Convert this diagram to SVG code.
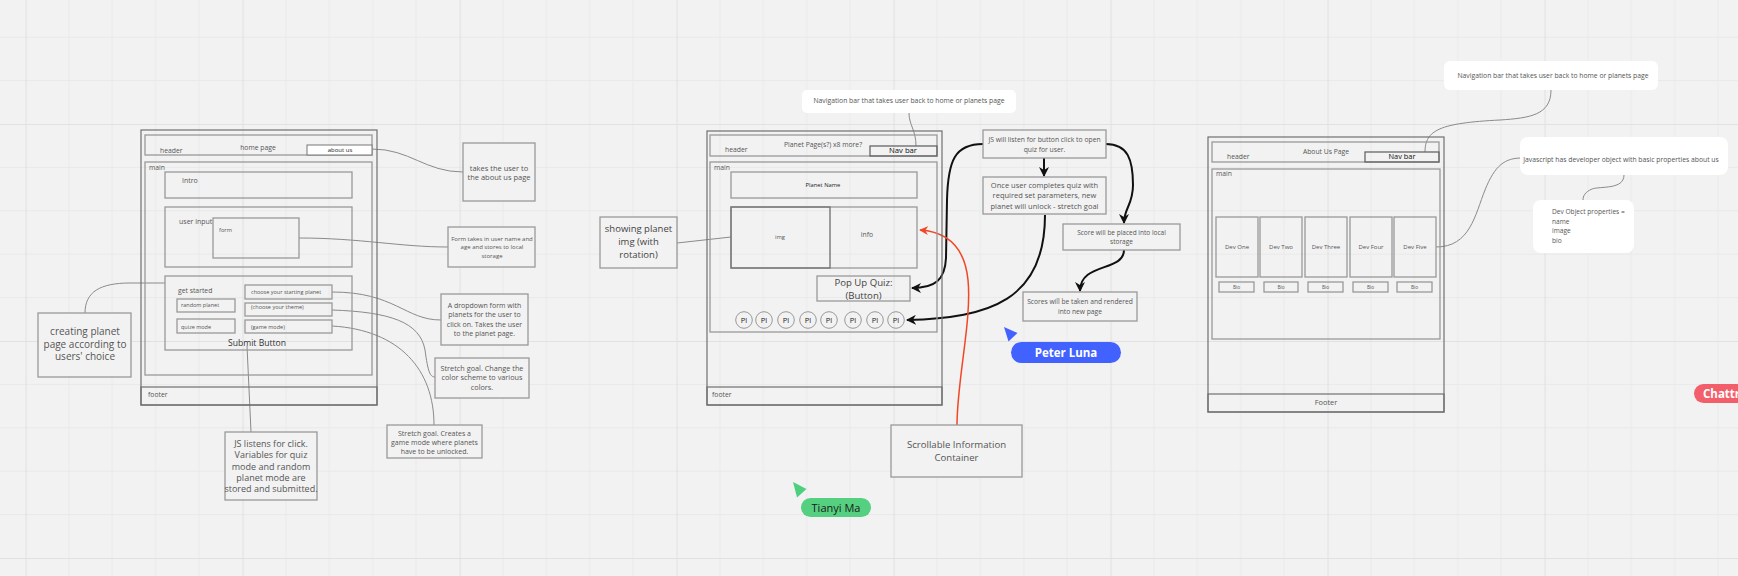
<svg xmlns="http://www.w3.org/2000/svg" width="1738" height="576" viewBox="0 0 1738 576">
<defs>
<pattern id="grid" x="25.5" y="124" width="217" height="217" patternUnits="userSpaceOnUse">
<path d="M43.4 0V217M86.8 0V217M130.2 0V217M173.6 0V217M0 43.4H217M0 86.8H217M0 130.2H217M0 173.6H217" stroke="#e9e9e9" stroke-width="1" fill="none"/>
<path d="M0.5 0V217M0 0.5H217" stroke="#e1e1e1" stroke-width="1.2" fill="none"/>
</pattern>
<marker id="ab" viewBox="0 0 10 10" refX="9" refY="5" markerWidth="5" markerHeight="5" orient="auto" markerUnits="strokeWidth">
<path d="M0,0 L10,5 L0,10 L3,5 z" fill="#111"/>
</marker>
<marker id="ar" viewBox="0 0 10 10" refX="9" refY="5" markerWidth="6" markerHeight="6" orient="auto" markerUnits="strokeWidth">
<path d="M0,0 L10,5 L0,10 L3,5 z" fill="#f24726"/>
</marker>
<style>
text{font-family:"Open Sans","Liberation Sans",sans-serif;fill:#555}
.c{text-anchor:middle}
.b{fill:none;stroke:#999;stroke-width:1.3}
.o{fill:none;stroke:#707070;stroke-width:1.2}
.n{fill:#f2f2f2;stroke:#999;stroke-width:1.3}
.d{fill:none;stroke:#666;stroke-width:1.3}
.tip{fill:#ffffff;stroke:none}
.cn{fill:none;stroke:#8a8a8a;stroke-width:1}
.bk{fill:none;stroke:#111;stroke-width:2;marker-end:url(#ab)}
.rd{fill:none;stroke:#f24726;stroke-width:1.5;marker-end:url(#ar)}
.s7{font-size:6.8px}
.dk{fill:#222}
</style>
</defs>
<rect width="1738" height="576" fill="#f2f2f2"/>
<rect width="1738" height="576" fill="url(#grid)"/>

<g id="connectors">
<path class="cn" d="M372,149 C410,149 425,172 463,172"/>
<path class="cn" d="M299,238 C360,238 400,247 448,247"/>
<path class="cn" d="M332,292 C395,292 405,320 441,320"/>
<path class="cn" d="M332,310 C390,312 420,322 425,350 C428,372 430,377 435,377"/>
<path class="cn" d="M332,326 C400,330 434,370 434,425"/>
<path class="cn" d="M85,313 C85,292 100,283 130,283 L165,283"/>
<path class="cn" d="M247,346 L251,432"/>
<path class="cn" d="M677,243 L731,237"/>
<path class="cn" d="M909,113 C909,125 916,130 916,146"/>
<path class="cn" d="M1551,90 C1551,115 1530,118 1500,120 C1440,123 1425,130 1425,152"/>
<path class="cn" d="M1436,247 C1470,247 1475,215 1485,190 C1495,165 1505,158 1522,158"/>
<path class="cn" d="M1624,175 C1624,190 1600,186 1592,189 C1585,192 1583,196 1583,200"/>
<path class="bk" d="M983,144 C955,144 948,160 947,200 L946,258 C945,280 935,288 912,288"/>
<path class="bk" d="M1045,215 C1045,300 990,318 907,320"/>
<path class="bk" d="M1044,158 L1044,176"/>
<path class="bk" d="M1106,144 C1128,144 1133,160 1133,185 C1133,205 1124,208 1124,223"/>
<path class="bk" d="M1124,250 C1124,272 1080,262 1080,291"/>
<path class="rd" d="M957,425 C957,380 972,320 968,280 C965,250 950,232 920,230"/>
</g>

<g id="home-page">
<rect class="o" x="141" y="130" width="236" height="275"/>
<rect class="b" x="145" y="135" width="227" height="20"/>
<text x="160" y="153" class="s7">header</text>
<text x="258" y="150" class="c s7">home page</text>
<rect x="307" y="145" width="65" height="10" fill="#fff" stroke="#777" stroke-width="1"/>
<text x="340" y="152" class="c dk" font-size="6">about us</text>
<rect class="b" x="145" y="162" width="227" height="213"/>
<text x="149" y="170" class="s7">main</text>
<rect class="b" x="165" y="172" width="187" height="26"/>
<text x="182" y="183" font-size="7">Intro</text>
<rect class="b" x="165" y="207" width="187" height="60"/>
<text x="179" y="224" font-size="7">user input</text>
<rect class="b" x="213" y="218" width="86" height="40"/>
<text x="219" y="232" font-size="5.7">form</text>
<rect class="b" x="165" y="276" width="187" height="74"/>
<text x="178" y="293" class="s7">get started</text>
<rect class="b" x="177" y="299" width="58" height="13"/>
<text x="181" y="307" font-size="5.5">random planet</text>
<rect class="b" x="177" y="319" width="58" height="14"/>
<text x="181" y="329" font-size="5.5">quize mode</text>
<rect class="b" x="245" y="285" width="87" height="14"/>
<text x="251" y="294" font-size="5.5">choose your starting planet</text>
<rect class="b" x="245" y="303" width="87" height="13"/>
<text x="251" y="309" font-size="5.5">(choose your theme)</text>
<rect class="b" x="245" y="320" width="87" height="13"/>
<text x="251" y="329" font-size="5.5">(game mode)</text>
<text x="257" y="346" class="c" font-size="8.6" fill="#333" style="fill:#333">Submit Button</text>
<rect class="o" x="141" y="387" width="236" height="18"/>
<text x="148" y="397" class="s7">footer</text>
</g>

<g id="note-creating">
<rect class="n" x="38" y="313" width="93" height="64"/>
<text class="c" font-size="10"><tspan x="85" y="335">creating planet</tspan><tspan x="85" y="347.5">page according to</tspan><tspan x="85" y="360">users' choice</tspan></text>
</g>
<g id="note-js-click">
<rect class="n" x="225" y="432" width="92" height="68"/>
<text class="c" font-size="9"><tspan x="271" y="447">JS listens for click.</tspan><tspan x="271" y="458.3">Variables for quiz</tspan><tspan x="271" y="469.6">mode and random</tspan><tspan x="271" y="480.9">planet mode are</tspan><tspan x="271" y="492.2">stored and submitted.</tspan></text>
</g>
<g id="note-about">
<rect class="n" x="463" y="143" width="72" height="58"/>
<text class="c" font-size="7.5"><tspan x="499" y="170.5">takes the user to</tspan><tspan x="499" y="179.5">the about us page</tspan></text>
</g>
<g id="note-form">
<rect class="n" x="448" y="227" width="87" height="40"/>
<text class="c" font-size="6"><tspan x="492" y="241">Form takes in user name and</tspan><tspan x="492" y="249.3">age and stores to local</tspan><tspan x="492" y="257.6">storage</tspan></text>
</g>
<g id="note-dropdown">
<rect class="n" x="441" y="294" width="87" height="51"/>
<text class="c" font-size="7"><tspan x="484.5" y="307.5">A dropdown form with</tspan><tspan x="484.5" y="317">planets for the user to</tspan><tspan x="484.5" y="326.5">click on. Takes the user</tspan><tspan x="484.5" y="336">to the planet page.</tspan></text>
</g>
<g id="note-theme">
<rect class="n" x="435" y="358" width="94" height="40"/>
<text class="c" font-size="7.3"><tspan x="482" y="370.5">Stretch goal. Change the</tspan><tspan x="482" y="380">color scheme to various</tspan><tspan x="482" y="389.5">colors.</tspan></text>
</g>
<g id="note-game">
<rect class="n" x="387" y="425" width="95" height="33"/>
<text class="c" font-size="7"><tspan x="434.5" y="435.5">Stretch goal. Creates a</tspan><tspan x="434.5" y="444.5">game mode where planets</tspan><tspan x="434.5" y="453.5">have to be unlocked.</tspan></text>
</g>

<g id="planet-page">
<rect class="o" x="707" y="131" width="235" height="274"/>
<rect class="b" x="710" y="135" width="227" height="21"/>
<text x="725" y="152" class="s7">header</text>
<text x="823" y="147" class="c s7">Planet Page(s?) x8 more?</text>
<rect class="d" x="870" y="146" width="67" height="10"/>
<text x="903" y="153" class="c" font-size="7.7" style="fill:#111">Nav bar</text>
<rect class="b" x="710" y="162" width="227" height="170"/>
<text x="714" y="170" class="s7">main</text>
<rect class="b" x="731" y="172" width="186" height="26"/>
<text x="823" y="187" class="c dk" font-size="5.8">Planet Name</text>
<rect class="b" x="731" y="207" width="186" height="61"/>
<rect x="731" y="207" width="99" height="61" fill="none" stroke="#777" stroke-width="1.4"/>
<text x="780" y="239" class="c" font-size="5.8">img</text>
<text x="867" y="237" class="c" font-size="6.8">info</text>
<rect class="b" x="817" y="276" width="93" height="25"/>
<text class="c" font-size="9.6" style="fill:#444"><tspan x="863.5" y="286">Pop Up Quiz:</tspan><tspan x="863.5" y="299">(Button)</tspan></text>
<g font-size="7.5">
<circle cx="744" cy="320" r="8.3" fill="none" stroke="#999"/><text x="744" y="322.7" class="c dk">Pl</text>
<circle cx="764" cy="320" r="8.3" fill="none" stroke="#999"/><text x="764" y="322.7" class="c dk">Pl</text>
<circle cx="786" cy="320" r="8.3" fill="none" stroke="#999"/><text x="786" y="322.7" class="c dk">Pl</text>
<circle cx="808" cy="320" r="8.3" fill="none" stroke="#999"/><text x="808" y="322.7" class="c dk">Pl</text>
<circle cx="829" cy="320" r="8.3" fill="none" stroke="#999"/><text x="829" y="322.7" class="c dk">Pl</text>
<circle cx="853" cy="320" r="8.3" fill="none" stroke="#999"/><text x="853" y="322.7" class="c dk">Pl</text>
<circle cx="875" cy="320" r="8.3" fill="none" stroke="#999"/><text x="875" y="322.7" class="c dk">Pl</text>
<circle cx="896" cy="320" r="8.3" fill="none" stroke="#999"/><text x="896" y="322.7" class="c dk">Pl</text>
</g>
<rect class="o" x="707" y="387" width="235" height="18"/>
<text x="712" y="397" class="s7">footer</text>
</g>

<g id="note-showing">
<rect class="n" x="600" y="217" width="77" height="51"/>
<text class="c" font-size="9.5" style="fill:#444"><tspan x="638.5" y="232">showing planet</tspan><tspan x="638.5" y="245">img (with</tspan><tspan x="638.5" y="258">rotation)</tspan></text>
</g>
<g id="tip-nav1">
<rect class="tip" x="802" y="90" width="214" height="23" rx="5"/>
<text x="909" y="103" class="c s7">Navigation bar that takes user back to home or planets page</text>
</g>
<g id="note-js-quiz">
<rect class="n" x="983" y="130" width="123" height="28"/>
<text class="c s7"><tspan x="1044.5" y="141.5">JS  will listen for button click to open</tspan><tspan x="1044.5" y="151.5">quiz for user.</tspan></text>
</g>
<g id="note-unlock">
<rect class="n" x="983" y="177" width="123" height="37"/>
<text class="c" font-size="7.5"><tspan x="1044.5" y="188">Once user completes quiz with</tspan><tspan x="1044.5" y="198.3">required set parameters, new</tspan><tspan x="1044.5" y="208.6">planet will unlock - stretch goal</tspan></text>
</g>
<g id="note-score">
<rect class="n" x="1063" y="224" width="117" height="26"/>
<text class="c" font-size="6.5"><tspan x="1121.5" y="234.5">Score will be placed into local</tspan><tspan x="1121.5" y="244">storage</tspan></text>
</g>
<g id="note-render">
<rect class="n" x="1023" y="292" width="114" height="29"/>
<text class="c" font-size="6.7"><tspan x="1080" y="304">Scores will be taken and rendered</tspan><tspan x="1080" y="313.5">into new page</tspan></text>
</g>
<g id="note-scroll">
<rect class="n" x="891" y="425" width="131" height="52"/>
<text class="c" font-size="9.6"><tspan x="956.5" y="447.5">Scrollable Information</tspan><tspan x="956.5" y="460.5">Container</tspan></text>
</g>

<g id="about-page">
<rect class="o" x="1208" y="137" width="236" height="275"/>
<rect class="b" x="1212" y="142" width="227" height="20"/>
<text x="1227" y="159" class="s7">header</text>
<text x="1326" y="154" class="c s7">About Us Page</text>
<rect class="d" x="1365" y="152" width="74" height="10"/>
<text x="1402" y="159" class="c" font-size="7.4" style="fill:#111">Nav bar</text>
<rect class="b" x="1212" y="169" width="228" height="170"/>
<text x="1216" y="176" class="s7">main</text>
<g font-size="6">
<rect class="b" x="1216" y="217" width="42" height="60"/><text x="1237" y="249" class="c">Dev One</text>
<rect class="b" x="1260" y="217" width="42" height="60"/><text x="1281" y="249" class="c">Dev Two</text>
<rect class="b" x="1305" y="217" width="42" height="60"/><text x="1326" y="249" class="c">Dev Three</text>
<rect class="b" x="1350" y="217" width="42" height="60"/><text x="1371" y="249" class="c">Dev Four</text>
<rect class="b" x="1394" y="217" width="42" height="60"/><text x="1415" y="249" class="c">Dev Five</text>
</g>
<g font-size="4.8">
<rect class="b" x="1219" y="282" width="35" height="10"/><text x="1236.5" y="288.7" class="c">Bio</text>
<rect class="b" x="1264" y="282" width="34" height="10"/><text x="1281" y="288.7" class="c">Bio</text>
<rect class="b" x="1308" y="282" width="35" height="10"/><text x="1325.5" y="288.7" class="c">Bio</text>
<rect class="b" x="1353" y="282" width="35" height="10"/><text x="1370.5" y="288.7" class="c">Bio</text>
<rect class="b" x="1397" y="282" width="35" height="10"/><text x="1414.5" y="288.7" class="c">Bio</text>
</g>
<rect class="o" x="1208" y="394" width="236" height="18"/>
<text x="1326" y="405" class="c" font-size="7.4">Footer</text>
</g>

<g id="tip-nav2">
<rect class="tip" x="1444" y="61" width="214" height="29" rx="6"/>
<text x="1553" y="77.5" class="c s7">Navigation bar that takes user back to home or planets page</text>
</g>
<g id="tip-js-dev">
<rect class="tip" x="1520" y="137" width="208" height="38" rx="8"/>
<text x="1621" y="161.5" class="c s7">Javascript has developer object with basic properties about us</text>
</g>
<g id="tip-dev-props">
<rect class="tip" x="1533" y="200" width="101" height="53" rx="8"/>
<text font-size="6.6"><tspan x="1552" y="214">Dev Object properties =</tspan><tspan x="1552" y="224">name</tspan><tspan x="1552" y="233">image</tspan><tspan x="1552" y="242.5">bio</tspan></text>
</g>

<g id="cursor-peter">
<path d="M1004,327 L1017.5,333 L1008.5,341.5 Z" fill="#4262ff"/>
<rect x="1011" y="342" width="110" height="21" rx="10.5" fill="#4262ff"/>
<text x="1066" y="356.5" class="c" font-size="11.5" font-weight="bold" style="fill:#fff">Peter Luna</text>
</g>
<g id="cursor-tianyi">
<path d="M793,482 L806.5,489 L797,497.5 Z" fill="#4ccf7e"/>
<rect x="801" y="498" width="70" height="19" rx="9.5" fill="#55d080"/>
<text x="836" y="511.5" class="c" font-size="11" style="fill:#1a1a1a">Tianyi Ma</text>
</g>
<g id="cursor-chattr">
<rect x="1694" y="384" width="70" height="19" rx="9.5" fill="#f25f6b"/>
<text x="1703" y="398" font-size="11.5" font-weight="bold" style="fill:#fff">Chattr</text>
</g>
</svg>
